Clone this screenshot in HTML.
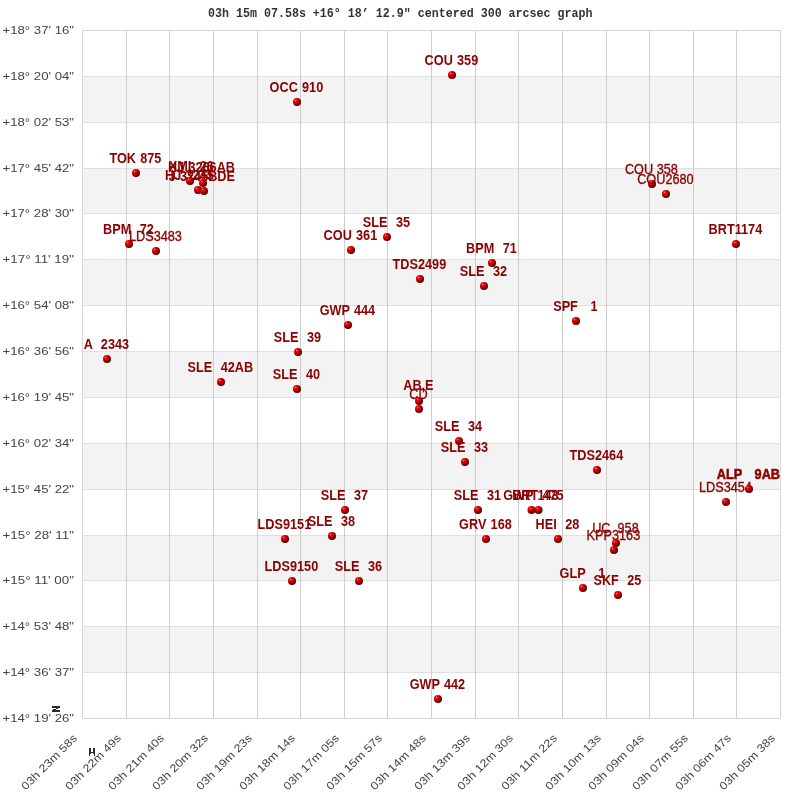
<!DOCTYPE html>
<html><head><meta charset="utf-8"><style>
html,body{margin:0;padding:0;background:#fff;width:800px;height:800px;overflow:hidden}
svg{display:block;will-change:transform}
.yl{font-family:"Liberation Sans",sans-serif;font-size:11px;fill:#444}
.xl{font-family:"Liberation Sans",sans-serif;font-size:11px;fill:#444}
.t{font-family:"Liberation Mono",monospace;font-weight:bold;font-size:11.67px;fill:#333}
.lb,.ln{font-family:"Liberation Sans",sans-serif;font-size:12.7px;fill:#8b0000;white-space:pre}/*0*/
.lb{font-weight:bold;word-spacing:0.7px}
.lh{stroke:#8b0000;stroke-width:0.5}
.ln{font-weight:normal;stroke:#8b0000;stroke-width:0.3}
</style></head><body>
<svg width="800" height="800" viewBox="0 0 800 800" xml:space="preserve">
<defs>
<radialGradient id="g" cx="0.33" cy="0.3" r="0.8" fx="0.33" fy="0.3">
<stop offset="0" stop-color="#ff9a9a"/>
<stop offset="0.09" stop-color="#ff3030"/>
<stop offset="0.22" stop-color="#f00000"/>
<stop offset="0.45" stop-color="#c00000"/>
<stop offset="0.7" stop-color="#780000"/>
<stop offset="1" stop-color="#3a0000"/>
</radialGradient>
</defs>

<rect x="82" y="76" width="698" height="46" fill="#f3f3f3"/>
<rect x="82" y="168" width="698" height="45" fill="#f3f3f3"/>
<rect x="82" y="259" width="698" height="46" fill="#f3f3f3"/>
<rect x="82" y="351" width="698" height="46" fill="#f3f3f3"/>
<rect x="82" y="443" width="698" height="46" fill="#f3f3f3"/>
<rect x="82" y="535" width="698" height="45" fill="#f3f3f3"/>
<rect x="82" y="626" width="698" height="46" fill="#f3f3f3"/>
<rect x="82" y="76" width="699" height="1" fill="#e0e0e0"/>
<rect x="82" y="122" width="699" height="1" fill="#e0e0e0"/>
<rect x="82" y="168" width="699" height="1" fill="#e0e0e0"/>
<rect x="82" y="213" width="699" height="1" fill="#e0e0e0"/>
<rect x="82" y="259" width="699" height="1" fill="#e0e0e0"/>
<rect x="82" y="305" width="699" height="1" fill="#e0e0e0"/>
<rect x="82" y="351" width="699" height="1" fill="#e0e0e0"/>
<rect x="82" y="397" width="699" height="1" fill="#e0e0e0"/>
<rect x="82" y="443" width="699" height="1" fill="#e0e0e0"/>
<rect x="82" y="489" width="699" height="1" fill="#e0e0e0"/>
<rect x="82" y="535" width="699" height="1" fill="#e0e0e0"/>
<rect x="82" y="580" width="699" height="1" fill="#e0e0e0"/>
<rect x="82" y="626" width="699" height="1" fill="#e0e0e0"/>
<rect x="82" y="672" width="699" height="1" fill="#e0e0e0"/>
<rect x="126" y="30" width="1" height="689" fill="#cdcdcd"/>
<rect x="169" y="30" width="1" height="689" fill="#cdcdcd"/>
<rect x="213" y="30" width="1" height="689" fill="#cdcdcd"/>
<rect x="257" y="30" width="1" height="689" fill="#cdcdcd"/>
<rect x="300" y="30" width="1" height="689" fill="#cdcdcd"/>
<rect x="344" y="30" width="1" height="689" fill="#cdcdcd"/>
<rect x="387" y="30" width="1" height="689" fill="#cdcdcd"/>
<rect x="431" y="30" width="1" height="689" fill="#cdcdcd"/>
<rect x="475" y="30" width="1" height="689" fill="#cdcdcd"/>
<rect x="518" y="30" width="1" height="689" fill="#cdcdcd"/>
<rect x="562" y="30" width="1" height="689" fill="#cdcdcd"/>
<rect x="606" y="30" width="1" height="689" fill="#cdcdcd"/>
<rect x="649" y="30" width="1" height="689" fill="#cdcdcd"/>
<rect x="693" y="30" width="1" height="689" fill="#cdcdcd"/>
<rect x="736" y="30" width="1" height="689" fill="#cdcdcd"/>
<rect x="82.5" y="30.5" width="698" height="688" fill="none" stroke="#d8d8d8" stroke-width="1"/>
<text class="yl" x="74" y="34.4" text-anchor="end" textLength="71.5" lengthAdjust="spacingAndGlyphs">+18° 37' 16&quot;</text>
<text class="yl" x="74" y="80.4" text-anchor="end" textLength="71.5" lengthAdjust="spacingAndGlyphs">+18° 20' 04&quot;</text>
<text class="yl" x="74" y="126.4" text-anchor="end" textLength="71.5" lengthAdjust="spacingAndGlyphs">+18° 02' 53&quot;</text>
<text class="yl" x="74" y="172.4" text-anchor="end" textLength="71.5" lengthAdjust="spacingAndGlyphs">+17° 45' 42&quot;</text>
<text class="yl" x="74" y="217.4" text-anchor="end" textLength="71.5" lengthAdjust="spacingAndGlyphs">+17° 28' 30&quot;</text>
<text class="yl" x="74" y="263.4" text-anchor="end" textLength="71.5" lengthAdjust="spacingAndGlyphs">+17° 11' 19&quot;</text>
<text class="yl" x="74" y="309.4" text-anchor="end" textLength="71.5" lengthAdjust="spacingAndGlyphs">+16° 54' 08&quot;</text>
<text class="yl" x="74" y="355.4" text-anchor="end" textLength="71.5" lengthAdjust="spacingAndGlyphs">+16° 36' 56&quot;</text>
<text class="yl" x="74" y="401.4" text-anchor="end" textLength="71.5" lengthAdjust="spacingAndGlyphs">+16° 19' 45&quot;</text>
<text class="yl" x="74" y="447.4" text-anchor="end" textLength="71.5" lengthAdjust="spacingAndGlyphs">+16° 02' 34&quot;</text>
<text class="yl" x="74" y="493.4" text-anchor="end" textLength="71.5" lengthAdjust="spacingAndGlyphs">+15° 45' 22&quot;</text>
<text class="yl" x="74" y="539.4" text-anchor="end" textLength="71.5" lengthAdjust="spacingAndGlyphs">+15° 28' 11&quot;</text>
<text class="yl" x="74" y="584.4" text-anchor="end" textLength="71.5" lengthAdjust="spacingAndGlyphs">+15° 11' 00&quot;</text>
<text class="yl" x="74" y="630.4" text-anchor="end" textLength="71.5" lengthAdjust="spacingAndGlyphs">+14° 53' 48&quot;</text>
<text class="yl" x="74" y="676.4" text-anchor="end" textLength="71.5" lengthAdjust="spacingAndGlyphs">+14° 36' 37&quot;</text>
<text class="yl" x="74" y="722.4" text-anchor="end" textLength="71.5" lengthAdjust="spacingAndGlyphs">+14° 19' 26&quot;</text>
<text class="xl" transform="translate(77.7,738.8) rotate(-45)" x="0" y="0" text-anchor="end" textLength="73.5" lengthAdjust="spacingAndGlyphs">03h 23m 58s</text>
<text class="xl" transform="translate(121.7,738.8) rotate(-45)" x="0" y="0" text-anchor="end" textLength="73.5" lengthAdjust="spacingAndGlyphs">03h 22m 49s</text>
<text class="xl" transform="translate(164.7,738.8) rotate(-45)" x="0" y="0" text-anchor="end" textLength="73.5" lengthAdjust="spacingAndGlyphs">03h 21m 40s</text>
<text class="xl" transform="translate(208.7,738.8) rotate(-45)" x="0" y="0" text-anchor="end" textLength="73.5" lengthAdjust="spacingAndGlyphs">03h 20m 32s</text>
<text class="xl" transform="translate(252.7,738.8) rotate(-45)" x="0" y="0" text-anchor="end" textLength="73.5" lengthAdjust="spacingAndGlyphs">03h 19m 23s</text>
<text class="xl" transform="translate(295.7,738.8) rotate(-45)" x="0" y="0" text-anchor="end" textLength="73.5" lengthAdjust="spacingAndGlyphs">03h 18m 14s</text>
<text class="xl" transform="translate(339.7,738.8) rotate(-45)" x="0" y="0" text-anchor="end" textLength="73.5" lengthAdjust="spacingAndGlyphs">03h 17m 05s</text>
<text class="xl" transform="translate(382.7,738.8) rotate(-45)" x="0" y="0" text-anchor="end" textLength="73.5" lengthAdjust="spacingAndGlyphs">03h 15m 57s</text>
<text class="xl" transform="translate(426.7,738.8) rotate(-45)" x="0" y="0" text-anchor="end" textLength="73.5" lengthAdjust="spacingAndGlyphs">03h 14m 48s</text>
<text class="xl" transform="translate(470.7,738.8) rotate(-45)" x="0" y="0" text-anchor="end" textLength="73.5" lengthAdjust="spacingAndGlyphs">03h 13m 39s</text>
<text class="xl" transform="translate(513.7,738.8) rotate(-45)" x="0" y="0" text-anchor="end" textLength="73.5" lengthAdjust="spacingAndGlyphs">03h 12m 30s</text>
<text class="xl" transform="translate(557.7,738.8) rotate(-45)" x="0" y="0" text-anchor="end" textLength="73.5" lengthAdjust="spacingAndGlyphs">03h 11m 22s</text>
<text class="xl" transform="translate(601.7,738.8) rotate(-45)" x="0" y="0" text-anchor="end" textLength="73.5" lengthAdjust="spacingAndGlyphs">03h 10m 13s</text>
<text class="xl" transform="translate(644.7,738.8) rotate(-45)" x="0" y="0" text-anchor="end" textLength="73.5" lengthAdjust="spacingAndGlyphs">03h 09m 04s</text>
<text class="xl" transform="translate(688.7,738.8) rotate(-45)" x="0" y="0" text-anchor="end" textLength="73.5" lengthAdjust="spacingAndGlyphs">03h 07m 55s</text>
<text class="xl" transform="translate(731.7,738.8) rotate(-45)" x="0" y="0" text-anchor="end" textLength="73.5" lengthAdjust="spacingAndGlyphs">03h 06m 47s</text>
<text class="xl" transform="translate(775.7,738.8) rotate(-45)" x="0" y="0" text-anchor="end" textLength="73.5" lengthAdjust="spacingAndGlyphs">03h 05m 38s</text>
<text class="t" transform="translate(208,17) scale(1,1.08)" x="0" y="0">03h 15m 07.58s +16° 18’ 12.9&quot; centered 300 arcsec graph</text>
<circle cx="452.00" cy="75.00" r="4" fill="url(#g)"/>
<text class="lb" transform="translate(451.40,65.00) scale(1,1.17)" x="0" y="0" text-anchor="middle">COU 359</text>
<circle cx="297.00" cy="102.00" r="4" fill="url(#g)"/>
<text class="lb" transform="translate(296.40,92.00) scale(1,1.17)" x="0" y="0" text-anchor="middle">OCC 910</text>
<circle cx="136.00" cy="173.00" r="4" fill="url(#g)"/>
<text class="lb" transform="translate(135.40,163.00) scale(1,1.17)" x="0" y="0" text-anchor="middle">TOK 875</text>
<circle cx="652.00" cy="184.00" r="4" fill="url(#g)"/>
<text class="ln" transform="translate(651.40,174.00) scale(1,1.17)" x="0" y="0" text-anchor="middle">COU 358</text>
<circle cx="666.00" cy="194.00" r="4" fill="url(#g)"/>
<text class="ln" transform="translate(665.40,184.00) scale(1,1.17)" x="0" y="0" text-anchor="middle">COU2680</text>
<circle cx="387.00" cy="237.00" r="4" fill="url(#g)"/>
<text class="lb" transform="translate(386.40,227.00) scale(1,1.17)" x="0" y="0" text-anchor="middle">SLE  35</text>
<circle cx="351.00" cy="250.00" r="4" fill="url(#g)"/>
<text class="lb" transform="translate(350.40,240.00) scale(1,1.17)" x="0" y="0" text-anchor="middle">COU 361</text>
<circle cx="129.00" cy="244.00" r="4" fill="url(#g)"/>
<text class="lb" transform="translate(128.40,234.00) scale(1,1.17)" x="0" y="0" text-anchor="middle">BPM  72</text>
<circle cx="156.00" cy="251.00" r="4" fill="url(#g)"/>
<text class="ln" transform="translate(155.40,241.00) scale(1,1.17)" x="0" y="0" text-anchor="middle">LDS3483</text>
<circle cx="736.00" cy="244.00" r="4" fill="url(#g)"/>
<text class="lb" transform="translate(735.40,234.00) scale(1,1.17)" x="0" y="0" text-anchor="middle">BRT1174</text>
<circle cx="492.00" cy="263.00" r="4" fill="url(#g)"/>
<text class="lb" transform="translate(491.40,253.00) scale(1,1.17)" x="0" y="0" text-anchor="middle">BPM  71</text>
<circle cx="484.00" cy="286.00" r="4" fill="url(#g)"/>
<text class="lb" transform="translate(483.40,276.00) scale(1,1.17)" x="0" y="0" text-anchor="middle">SLE  32</text>
<circle cx="420.00" cy="279.00" r="4" fill="url(#g)"/>
<text class="lb" transform="translate(419.40,269.00) scale(1,1.17)" x="0" y="0" text-anchor="middle">TDS2499</text>
<circle cx="576.00" cy="321.00" r="4" fill="url(#g)"/>
<text class="lb" transform="translate(575.40,311.00) scale(1,1.17)" x="0" y="0" text-anchor="middle">SPF   1</text>
<circle cx="348.00" cy="325.00" r="4" fill="url(#g)"/>
<text class="lb" transform="translate(347.40,315.00) scale(1,1.17)" x="0" y="0" text-anchor="middle">GWP 444</text>
<circle cx="298.00" cy="352.00" r="4" fill="url(#g)"/>
<text class="lb" transform="translate(297.40,342.00) scale(1,1.17)" x="0" y="0" text-anchor="middle">SLE  39</text>
<circle cx="107.00" cy="359.00" r="4" fill="url(#g)"/>
<text class="lb" transform="translate(106.40,349.00) scale(1,1.17)" x="0" y="0" text-anchor="middle">A  2343</text>
<circle cx="221.00" cy="382.00" r="4" fill="url(#g)"/>
<text class="lb" transform="translate(220.40,372.00) scale(1,1.17)" x="0" y="0" text-anchor="middle">SLE  42AB</text>
<circle cx="297.00" cy="389.00" r="4" fill="url(#g)"/>
<text class="lb" transform="translate(296.40,379.00) scale(1,1.17)" x="0" y="0" text-anchor="middle">SLE  40</text>
<circle cx="419.00" cy="409.00" r="4" fill="url(#g)"/>
<text class="ln" transform="translate(418.40,399.00) scale(1,1.17)" x="0" y="0" text-anchor="middle">CD</text>
<circle cx="419.00" cy="401.00" r="4" fill="url(#g)"/>
<text class="lb" transform="translate(418.40,390.10) scale(1,1.17)" x="0" y="0" text-anchor="middle">AB,E</text>
<circle cx="459.00" cy="441.00" r="4" fill="url(#g)"/>
<text class="lb" transform="translate(458.40,431.00) scale(1,1.17)" x="0" y="0" text-anchor="middle">SLE  34</text>
<circle cx="465.00" cy="462.00" r="4" fill="url(#g)"/>
<text class="lb" transform="translate(464.40,452.00) scale(1,1.17)" x="0" y="0" text-anchor="middle">SLE  33</text>
<circle cx="597.00" cy="470.00" r="4" fill="url(#g)"/>
<text class="lb" transform="translate(596.40,460.00) scale(1,1.17)" x="0" y="0" text-anchor="middle">TDS2464</text>
<circle cx="726.00" cy="502.00" r="4" fill="url(#g)"/>
<text class="ln" transform="translate(725.40,492.00) scale(1,1.17)" x="0" y="0" text-anchor="middle">LDS3454</text>
<circle cx="749.00" cy="489.00" r="4" fill="url(#g)"/>
<text class="lb lh" transform="translate(748.40,479.00) scale(1,1.17)" x="0" y="0" text-anchor="middle">ALP   9AB</text>
<circle cx="345.00" cy="510.00" r="4" fill="url(#g)"/>
<text class="lb" transform="translate(344.40,500.00) scale(1,1.17)" x="0" y="0" text-anchor="middle">SLE  37</text>
<circle cx="478.00" cy="510.00" r="4" fill="url(#g)"/>
<text class="lb" transform="translate(477.40,500.00) scale(1,1.17)" x="0" y="0" text-anchor="middle">SLE  31</text>
<circle cx="531.50" cy="510.00" r="4" fill="url(#g)"/>
<text class="lb" transform="translate(530.90,500.00) scale(1,1.17)" x="0" y="0" text-anchor="middle">GWP 143</text>
<circle cx="538.50" cy="510.00" r="4" fill="url(#g)"/>
<text class="lb" transform="translate(537.90,500.00) scale(1,1.17)" x="0" y="0" text-anchor="middle">BRT 475</text>
<circle cx="285.00" cy="539.00" r="4" fill="url(#g)"/>
<text class="lb" transform="translate(284.40,529.00) scale(1,1.17)" x="0" y="0" text-anchor="middle">LDS9151</text>
<circle cx="332.00" cy="536.00" r="4" fill="url(#g)"/>
<text class="lb" transform="translate(331.40,526.00) scale(1,1.17)" x="0" y="0" text-anchor="middle">SLE  38</text>
<circle cx="486.00" cy="539.00" r="4" fill="url(#g)"/>
<text class="lb" transform="translate(485.40,529.00) scale(1,1.17)" x="0" y="0" text-anchor="middle">GRV 168</text>
<circle cx="558.00" cy="539.00" r="4" fill="url(#g)"/>
<text class="lb" transform="translate(557.40,529.00) scale(1,1.17)" x="0" y="0" text-anchor="middle">HEI  28</text>
<circle cx="616.00" cy="543.00" r="4" fill="url(#g)"/>
<text class="ln" transform="translate(615.40,533.00) scale(1,1.17)" x="0" y="0" text-anchor="middle">UC  958</text>
<circle cx="614.00" cy="550.00" r="4" fill="url(#g)"/>
<text class="ln" transform="translate(613.40,540.00) scale(1,1.17)" x="0" y="0" text-anchor="middle">KPP3163</text>
<circle cx="292.00" cy="581.00" r="4" fill="url(#g)"/>
<text class="lb" transform="translate(291.40,571.00) scale(1,1.17)" x="0" y="0" text-anchor="middle">LDS9150</text>
<circle cx="359.00" cy="581.00" r="4" fill="url(#g)"/>
<text class="lb" transform="translate(358.40,571.00) scale(1,1.17)" x="0" y="0" text-anchor="middle">SLE  36</text>
<circle cx="583.00" cy="588.00" r="4" fill="url(#g)"/>
<text class="lb" transform="translate(582.40,578.00) scale(1,1.17)" x="0" y="0" text-anchor="middle">GLP   1</text>
<circle cx="618.00" cy="595.00" r="4" fill="url(#g)"/>
<text class="lb" transform="translate(617.40,585.00) scale(1,1.17)" x="0" y="0" text-anchor="middle">SKF  25</text>
<circle cx="438.00" cy="699.00" r="4" fill="url(#g)"/>
<text class="lb" transform="translate(437.40,689.00) scale(1,1.17)" x="0" y="0" text-anchor="middle">GWP 442</text>
<text class="lb" transform="translate(168.70,171.00) scale(1,1.17)" x="0" y="0" text-anchor="start">XMI  26</text>
<text class="lb" transform="translate(235.00,171.50) scale(1,1.17)" x="0" y="0" text-anchor="end">HJ 3266AB</text>
<text class="lb" transform="translate(165.00,180.00) scale(1,1.17)" x="0" y="0" text-anchor="start">HJ 3245</text>
<text class="lb" transform="translate(235.00,180.50) scale(1,1.17)" x="0" y="0" text-anchor="end">J 3245BDE</text>
<circle cx="190.00" cy="181.00" r="4" fill="url(#g)"/>
<circle cx="203.00" cy="183.00" r="4" fill="url(#g)"/>
<circle cx="198.00" cy="190.00" r="4" fill="url(#g)"/>
<circle cx="204.00" cy="191.00" r="4" fill="url(#g)"/>
<rect x="52" y="706" width="8" height="2" fill="#2b2b2b"/>
<rect x="56" y="708" width="2" height="1" fill="#2b2b2b"/>
<rect x="53" y="709" width="3" height="1" fill="#2b2b2b"/>
<rect x="52" y="710" width="8" height="2" fill="#2b2b2b"/>
<rect x="89" y="748" width="2" height="5" fill="#2b2b2b"/>
<rect x="93" y="748" width="2" height="5" fill="#2b2b2b"/>
<rect x="91" y="752" width="2" height="1" fill="#2b2b2b"/>
<rect x="89" y="753" width="2" height="1" fill="#2b2b2b"/>
<rect x="93" y="753" width="2" height="1" fill="#2b2b2b"/>
<rect x="89" y="754" width="1" height="2" fill="#2b2b2b"/>
<rect x="94" y="754" width="1" height="2" fill="#2b2b2b"/>
</svg></body></html>
